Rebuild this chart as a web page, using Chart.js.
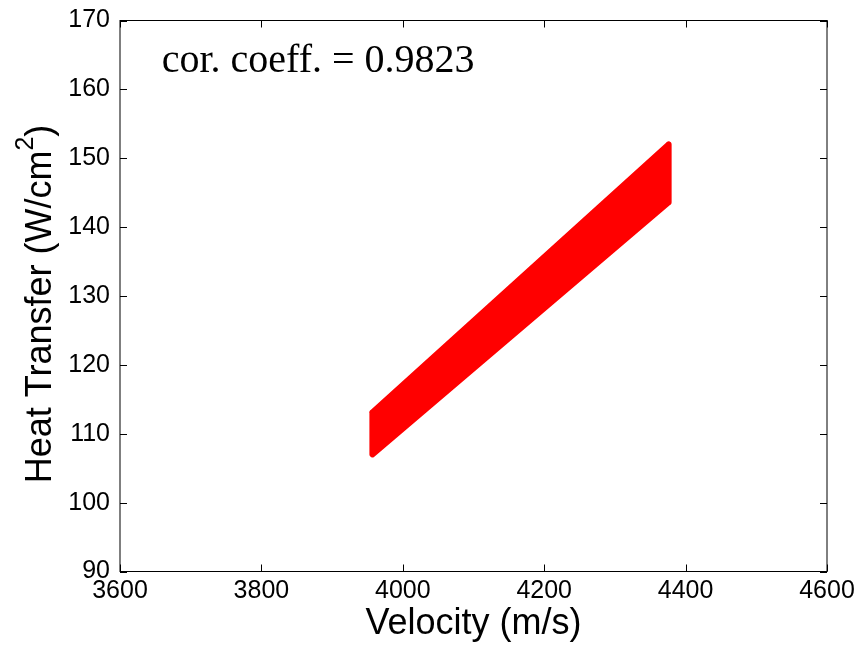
<!DOCTYPE html>
<html>
<head>
<meta charset="utf-8">
<script src="https://cdn.jsdelivr.net/npm/chart.js@4.4.1/dist/chart.umd.min.js"></script>
<style>
  html, body { margin: 0; padding: 0; background: #fff; }
</style>
</head>
<body>
<canvas id="heat-chart" width="859" height="651"></canvas>
<script>
// Outline of the sample band: upper edge left -> right, then lower edge back
const bandVelocity = [3957, 4376, 4376, 3957, 3957];
const bandHeat = [113.1, 152.0, 143.6, 107.0, 113.1];

const velocityTicks = [3600, 3800, 4000, 4200, 4400, 4600];
const heatTicks = [90, 100, 110, 120, 130, 140, 150, 160, 170];

const corrText = "cor. coeff. = 0.9823";
const corrAt = { x: 3659, y: 162.5 };

const SANS = '"Liberation Sans", Arial, sans-serif';
const SERIF = '"Liberation Serif", "Times New Roman", serif';

const bandPoints = bandVelocity.map((v, i) => ({ x: v, y: bandHeat[i] }));

// Axes box with inward ticks, y title with superscript and the annotation
const matlabAxes = {
  id: "matlabAxes",
  afterDraw(chart) {
    const { ctx, chartArea: a, scales } = chart;
    const xs = scales.x;
    const ys = scales.y;
    const tick = 7;

    ctx.save();
    ctx.strokeStyle = "#000";
    ctx.lineWidth = 1;
    ctx.strokeRect(a.left, a.top, a.right - a.left, a.bottom - a.top);

    ctx.beginPath();
    velocityTicks.forEach((v) => {
      const px = Math.round(xs.getPixelForValue(v)) + 0.5;
      ctx.moveTo(px, a.bottom);
      ctx.lineTo(px, a.bottom - tick);
      ctx.moveTo(px, a.top);
      ctx.lineTo(px, a.top + tick);
    });
    heatTicks.forEach((h) => {
      const py = Math.round(ys.getPixelForValue(h)) + 0.5;
      ctx.moveTo(a.left, py);
      ctx.lineTo(a.left + tick, py);
      ctx.moveTo(a.right, py);
      ctx.lineTo(a.right - tick, py);
    });
    ctx.stroke();

    // annotation
    ctx.fillStyle = "#000";
    ctx.font = "40px " + SERIF;
    ctx.textBaseline = "alphabetic";
    ctx.textAlign = "left";
    ctx.fillText(corrText, xs.getPixelForValue(corrAt.x), ys.getPixelForValue(corrAt.y));

    // y axis title: Heat Transfer (W/cm^2)
    const main = "Heat Transfer (W/cm";
    const sup = "2";
    const close = ")";
    const mainFont = "36px " + SANS;
    const supFont = "25px " + SANS;
    ctx.font = mainFont;
    const w1 = ctx.measureText(main).width;
    const w3 = ctx.measureText(close).width;
    ctx.font = supFont;
    const w2 = ctx.measureText(sup).width;
    const total = w1 + w2 + w3;
    const cy = (a.top + a.bottom) / 2 + 8;
    ctx.translate(51, cy);
    ctx.rotate(-Math.PI / 2);
    const x0 = -total / 2;
    ctx.font = mainFont;
    ctx.fillText(main, x0, 0);
    ctx.font = supFont;
    ctx.fillText(sup, x0 + w1, -18);
    ctx.font = mainFont;
    ctx.fillText(close, x0 + w1 + w2, 0);
    ctx.restore();
  },
};

new Chart(document.getElementById("heat-chart"), {
  type: "line",
  data: {
    datasets: [
      {
        label: "Heat transfer",
        data: bandPoints,
        borderColor: "#ff0000",
        backgroundColor: "#ff0000",
        borderWidth: 6,
        borderJoinStyle: "round",
        borderCapStyle: "round",
        pointRadius: 0,
        tension: 0,
        fill: "shape",
      },
    ],
  },
  options: {
    responsive: false,
    animation: false,
    layout: {
      padding: { top: 20.5, right: 32, left: 0, bottom: 0 },
    },
    scales: {
      x: {
        type: "linear",
        min: 3600,
        max: 4600,
        afterBuildTicks: (s) => {
          s.ticks = velocityTicks.map((v) => ({ value: v }));
        },
        afterFit: (s) => {
          s.height = 79.5;
          s.paddingLeft = 0;
          s.paddingRight = 0;
        },
        grid: { display: false, drawTicks: false },
        border: { display: false },
        ticks: {
          color: "#000",
          padding: 5,
          maxRotation: 0,
          font: { family: SANS, size: 25 },
          callback: (v) => String(v),
        },
        title: {
          display: true,
          text: "Velocity (m/s)",
          color: "#000",
          font: { family: SANS, size: 36 },
          padding: { top: 0, bottom: 5 },
        },
      },
      y: {
        type: "linear",
        min: 90,
        max: 170,
        afterBuildTicks: (s) => {
          s.ticks = heatTicks.map((v) => ({ value: v }));
        },
        afterFit: (s) => {
          s.width = 120;
          s.paddingTop = 0;
          s.paddingBottom = 0;
        },
        grid: { display: false, drawTicks: false },
        border: { display: false },
        ticks: {
          color: "#000",
          padding: 10,
          font: { family: SANS, size: 25 },
          callback: (v) => String(v),
        },
      },
    },
    plugins: {
      legend: { display: false },
      tooltip: { enabled: false },
    },
  },
  plugins: [matlabAxes],
});
</script>
</body>
</html>
